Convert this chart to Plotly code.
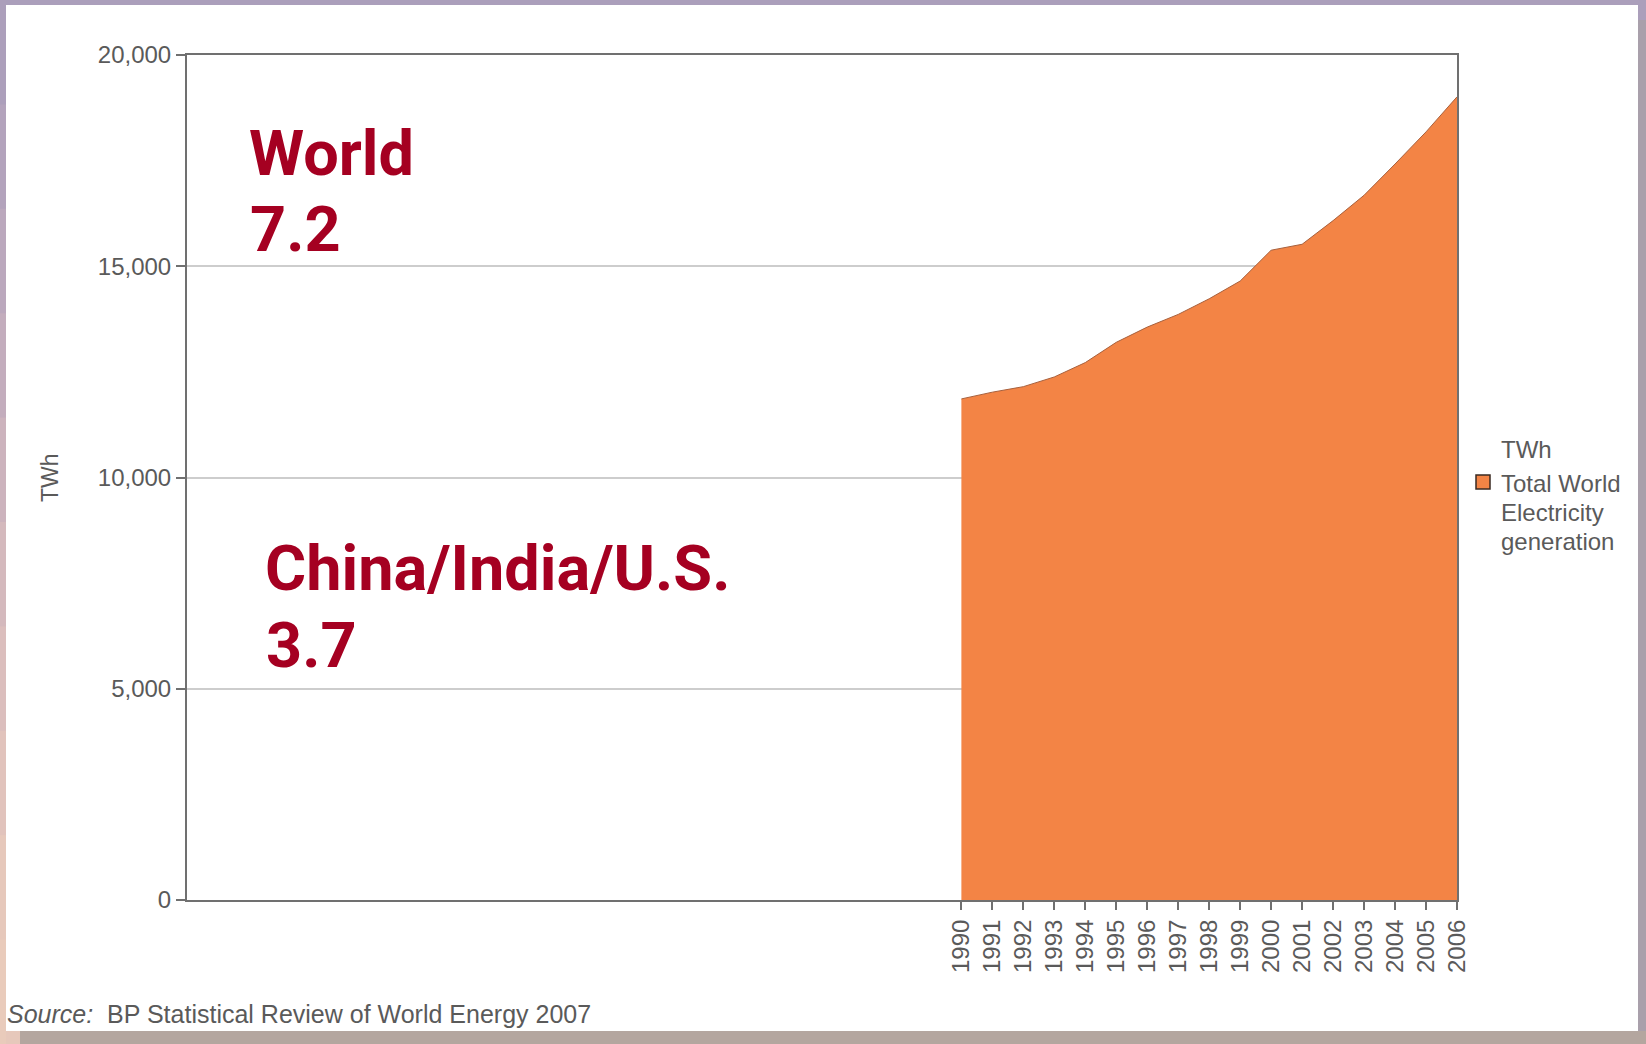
import plotly.graph_objects as go

# Total world electricity generation, TWh (BP Statistical Review of World Energy 2007)
years = list(range(1990, 2007))
generation_twh = [11860, 12020, 12150, 12380, 12720, 13200, 13560, 13860, 14230,
                  14650, 15380, 15520, 16080, 16680, 17420, 18180, 19010]
year_labels = [str(y) for y in years]
y_ticks = [0, 5000, 10000, 15000, 20000]

W, H = 1646, 1044
ML, MR, MT, MB = 187, 189, 55, 144
PW, PH = W - ML - MR, H - MT - MB


def px(x):
    """pixel x -> paper x"""
    return (x - ML) / PW


def py(y):
    """pixel y -> paper y"""
    return (H - MB - y) / PH


ORANGE = "#f38445"
RED = "#a50021"
GREY_TXT = "#5a5a5a"
AXIS = "#707070"

fig = go.Figure()
fig.add_trace(go.Scatter(
    x=years, y=generation_twh, mode="lines", fill="tozeroy",
    fillcolor=ORANGE, line=dict(color="#a8603c", width=1),
    name="Total World Electricity generation", showlegend=False,
    hoverinfo="x+y",
))

shapes = []


def rect(x0, y0, x1, y1, color, layer="below", line=None):
    shapes.append(dict(type="rect", xref="paper", yref="paper",
                       x0=px(x0), x1=px(x1), y0=py(y1), y1=py(y0),
                       fillcolor=color, line=line or dict(width=0), layer=layer))


# frame around the white panel
rect(0, 0, W, 5, "#ab9fbb")                       # top band
rect(1638, 0, W, 20, "#ab9fbb")
rect(1638, 20, W, H, "#a9a0ab")                   # right shadow band
rect(0, 1031, W, H, "#b4a69f")                    # bottom band
left_cols = ["#ac9fbb", "#b3a3bc", "#bba8bd", "#c3adbd", "#ccb3bd",
             "#d4b9bd", "#dbbebd", "#e1c3bc", "#e6c8bb", "#e9cbbb"]
seg = H / len(left_cols)
for i, c in enumerate(left_cols):
    rect(0, i * seg, 6, (i + 1) * seg + 1, c)
rect(6, 1031, 20, H, "#e6c8bb")
# white panel
rect(6, 5, 1638, 1031, "white")

# legend swatch
rect(1476, 475, 1490, 489, ORANGE, layer="above",
     line=dict(color="#3a2a22", width=1.5))

annotations = []


def text(x, y, s, size, color, anchor="left", bold=False, family="Liberation Sans, Arial, sans-serif", angle=0):
    annotations.append(dict(
        xref="paper", yref="paper", x=px(x), y=py(y), text=s, showarrow=False,
        xanchor=anchor, yanchor="middle", textangle=angle,
        font=dict(size=size, color=color, family=family,
                  weight="bold" if bold else "normal"),
    ))


# headline figures
RF = "Roboto, Liberation Sans, Arial, sans-serif"
text(247, 153, "World", 63, RED, bold=True, family=RF)
text(248, 229, "7.2", 63, RED, bold=True, family=RF)
text(263, 568, "China/India/U.S.", 63, RED, bold=True, family=RF)
text(264, 645, "3.7", 63, RED, bold=True, family=RF)

# axis title
text(50, 478, "TWh", 23, GREY_TXT, anchor="center", angle=-90)

# legend text
text(1499, 450, "TWh", 24, GREY_TXT)
text(1499, 483, "Total World", 24, GREY_TXT)
text(1499, 512, "Electricity", 24, GREY_TXT)
text(1499, 541, "generation", 24, GREY_TXT)

# source line
text(5, 1014, "<i>Source:</i>\u00a0\u00a0BP Statistical Review of World Energy 2007",
     25, GREY_TXT)

fig.update_layout(
    template="none",
    width=W, height=H,
    margin=dict(l=ML, r=MR, t=MT, b=MB, pad=0),
    paper_bgcolor="#b4a69f",
    plot_bgcolor="white",
    showlegend=False,
    shapes=shapes,
    annotations=annotations,
    font=dict(family="Liberation Sans, Arial, sans-serif", color=GREY_TXT, size=24),
)

fig.update_xaxes(
    range=[1965, 2006], tickmode="array", tickvals=years, ticktext=year_labels,
    tickangle=-90, ticks="outside", ticklen=8, tickwidth=2, tickcolor=AXIS,
    showgrid=False, zeroline=False, showline=True, linecolor=AXIS, linewidth=2,
    mirror=True, automargin=False, tickfont=dict(size=24, color=GREY_TXT),
)
fig.update_yaxes(
    range=[0, 20000], tickmode="array", tickvals=y_ticks,
    ticktext=[f"{v:,}" for v in y_ticks],
    ticks="outside", ticklen=9, tickwidth=2, tickcolor=AXIS,
    showgrid=True, gridcolor="#cdcdcd", gridwidth=2, zeroline=False,
    showline=True, linecolor=AXIS, linewidth=2, mirror=True, automargin=False,
    tickfont=dict(size=24, color=GREY_TXT),
)

fig.write_html("out.html")
